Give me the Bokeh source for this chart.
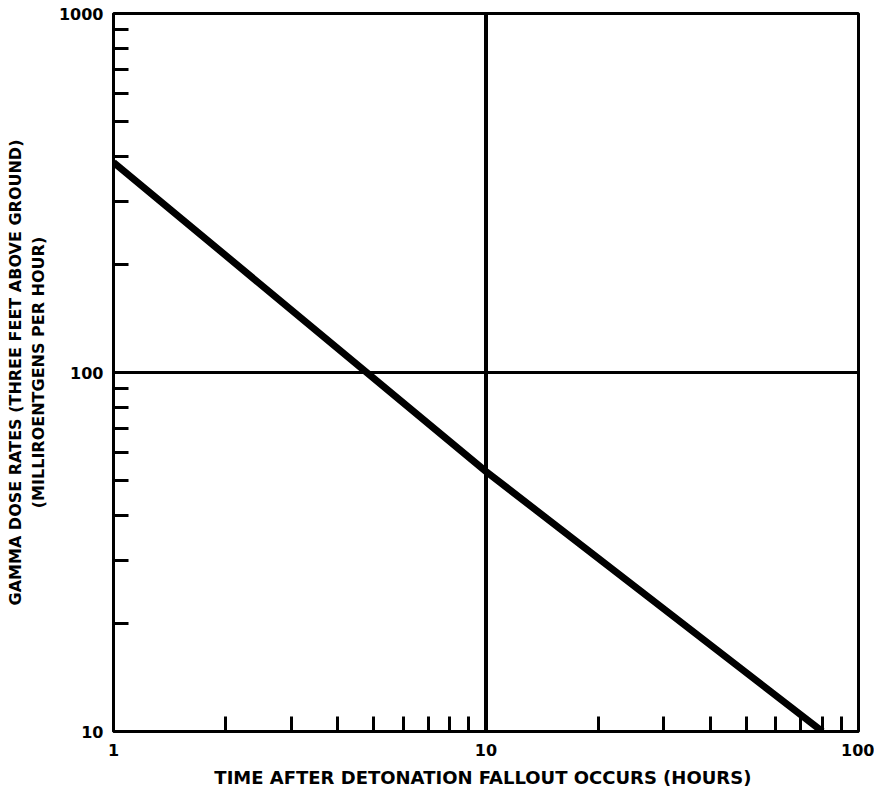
from bokeh.plotting import figure
from bokeh.models import FixedTicker, NumeralTickFormatter, Span, Range1d
from bokeh.embed import file_html
from bokeh.resources import INLINE

# Data
time_hours = [1, 10, 80]
dose_mr = [385, 53, 10]

x_ticks = [1, 10, 100]
y_ticks = [10, 100, 1000]
x_minor = [m * 10 ** k for k in (0, 1) for m in range(2, 10)]
y_minor = [m * 10 ** k for k in (1, 2) for m in range(2, 10)]

x_label = "TIME AFTER DETONATION FALLOUT OCCURS  (HOURS)"
y_label = "GAMMA DOSE RATES (THREE FEET ABOVE GROUND)\n(MILLIROENTGENS PER HOUR)"

FONT = "DejaVu Sans"

p = figure(width=874, height=790, x_axis_type="log", y_axis_type="log",
           x_range=Range1d(1, 100), y_range=Range1d(10, 1000),
           output_backend="svg", toolbar_location=None,
           min_border_left=113, min_border_right=16,
           min_border_top=13, min_border_bottom=59)

p.background_fill_color = "white"
p.border_fill_color = "white"
p.outline_line_color = "black"
p.outline_line_width = 3
p.xgrid.visible = False
p.ygrid.visible = False

for ax, ticks, minor in ((p.xaxis[0], x_ticks, x_minor), (p.yaxis[0], y_ticks, y_minor)):
    ax.ticker = FixedTicker(ticks=ticks, minor_ticks=minor)
    ax.formatter = NumeralTickFormatter(format="0")
    ax.axis_line_color = "black"
    ax.axis_line_width = 3
    ax.major_tick_in = 0
    ax.major_tick_out = 0
    ax.minor_tick_in = 15
    ax.minor_tick_out = 0
    ax.minor_tick_line_width = 3
    ax.minor_tick_line_color = "black"
    ax.major_label_text_font = FONT
    ax.major_label_text_font_style = "bold"
    ax.major_label_text_font_size = "16px"
    ax.major_label_text_color = "black"
    ax.axis_label_text_font = FONT
    ax.axis_label_text_font_style = "bold"
    ax.axis_label_text_color = "black"

p.xaxis.axis_label = x_label
p.xaxis.axis_label_text_font_size = "18px"
p.xaxis.major_label_standoff = 12
p.xaxis.axis_label_standoff = 8
p.yaxis.axis_label = y_label
p.yaxis.axis_label_text_font_size = "16px"
p.yaxis.major_label_standoff = 10
p.yaxis.axis_label_standoff = 8

p.add_layout(Span(location=10, dimension="height", line_color="black", line_width=4))
p.add_layout(Span(location=100, dimension="width", line_color="black", line_width=3))

p.line(time_hours, dose_mr, line_color="black", line_width=7)

open("out.html", "w").write(file_html(p, INLINE))
